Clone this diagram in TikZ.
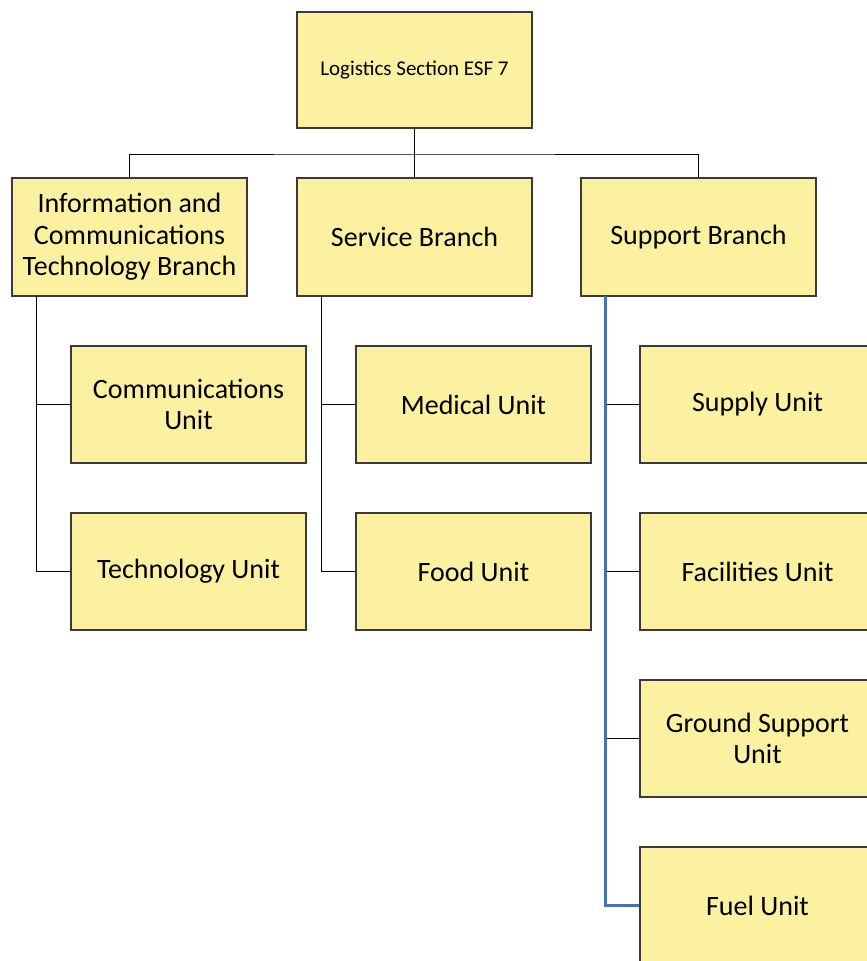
\documentclass[tikz,border=0pt]{standalone}
\usepackage{fontspec}
\setmainfont{Carlito}
\usepackage{xcolor}
\usepackage{tikz}
\usetikzlibrary{positioning, calc}
\definecolor{boxyellow}{HTML}{FBF1A0}
\definecolor{boxedge}{HTML}{3A3A3A}
\definecolor{linkblue}{HTML}{4470BC}

\tikzset{
  orgbox/.style={draw=boxedge, line width=1.2pt, fill=boxyellow, minimum width=235pt,
    minimum height=117pt, align=center, inner sep=0pt,
    font=\fontsize{28}{31.5}\selectfont},
  topbox/.style={orgbox, minimum height=116pt, font=\fontsize{21}{25}\selectfont},
  link/.style={draw=black, line width=1pt},
  bluelink/.style={draw=linkblue, line width=3pt}
}

\begin{document}
\begin{tikzpicture}[x=1pt, y=-1pt]
    \clip (0,0) rectangle (867,961);
    \fill[white] (0,0) rectangle (867,961);

    \coordinate (bus) at (414.5,154);
    \coordinate (icttrunk) at (36,296);
    \coordinate (svctrunk) at (321,296);
    \coordinate (suptrunk) at (605,296);

    \node[topbox] (top) at (414.5,70) {Logistics Section ESF 7};

    \node[orgbox, minimum height=118pt] (ict) at (129.5,237) {Information and\\Communications\\Technology Branch};
    \node[orgbox, minimum height=118pt] (svc) at (414.5,237) {Service Branch};
    \node[orgbox, minimum height=118pt] (sup) at (698.5,237) {Support Branch};

    \node[orgbox] (comm) at (188.5,404.5) {Communications\\Unit};
    \node[orgbox] (tech) at (188.5,571.5) {Technology Unit};
    \node[orgbox] (med) at (473.5,404.5) {Medical Unit};
    \node[orgbox] (food) at (473.5,571.5) {Food Unit};
    \node[orgbox] (supply) at (757.5,404.5) {Supply Unit};
    \node[orgbox] (fac) at (757.5,571.5) {Facilities Unit};
    \node[orgbox] (ground) at (757.5,738.5) {Ground Support\\Unit};
    \node[orgbox] (fuel) at (757.5,905.5) {Fuel Unit};

    % section to branches
    \draw[link] (top.south) -- (bus);
    \draw[link] (ict.north) |- (bus) -| (sup.north);
    \draw[link] (bus) -- (svc.north);

    % branches to units
    \draw[link] (icttrunk) |- (comm.west);
    \draw[link] (icttrunk) |- (tech.west);
    \draw[link] (svctrunk) |- (med.west);
    \draw[link] (svctrunk) |- (food.west);
    \draw[link] (suptrunk) |- (supply.west);
    \draw[link] (suptrunk) |- (fac.west);
    \draw[link] (suptrunk) |- (ground.west);
    \draw[bluelink] (suptrunk) |- (fuel.west);
  \end{tikzpicture}
\end{document}
